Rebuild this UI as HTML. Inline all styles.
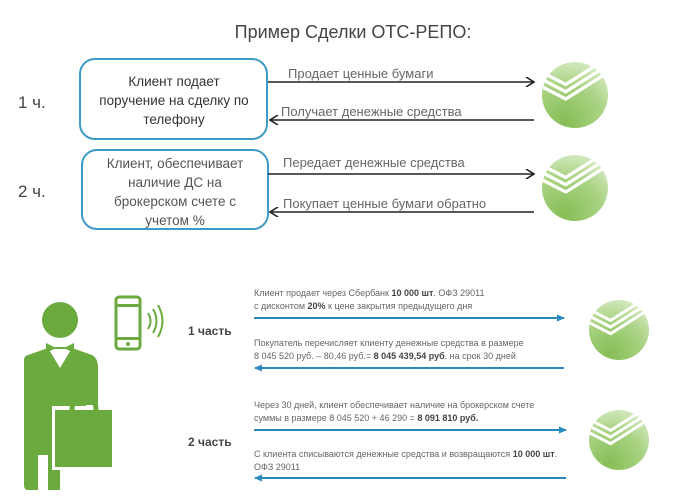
<!DOCTYPE html>
<html><head><meta charset="utf-8"><style>
body{margin:0;background:#fff}
svg{display:block;font-family:"Liberation Sans","DejaVu Sans",sans-serif}
</style></head><body>
<svg width="696" height="504" viewBox="0 0 696 504" xmlns="http://www.w3.org/2000/svg">
<defs>
<radialGradient id="g" cx="0.35" cy="0.9" r="0.95">
<stop offset="0" stop-color="#86bd55"/><stop offset="0.6" stop-color="#a9d383"/><stop offset="1" stop-color="#d6ebc3"/>
</radialGradient>
<clipPath id="cc"><circle cx="0" cy="0" r="1"/></clipPath>
<g id="logo">
<circle cx="0" cy="0" r="1" fill="url(#g)"/>
<g fill="none" stroke="#fff" stroke-width="0.1" clip-path="url(#cc)">
<polyline points="-1.1,-0.3 -0.28,0.12 1.1,-0.75"/>
<polyline points="-1.1,-0.52 -0.28,-0.1 1.1,-0.97"/>
<polyline points="-1.1,-0.74 -0.28,-0.32 1.1,-1.19"/>
</g>
</g>
<marker id="oa" markerWidth="10" markerHeight="10" refX="9" refY="5" orient="auto" markerUnits="userSpaceOnUse"><polyline points="1,0 9,5 1,10" fill="none" stroke="#222" stroke-width="1.6"/></marker>
<marker id="ba" markerWidth="8" markerHeight="8" refX="7" refY="4" orient="auto" markerUnits="userSpaceOnUse"><polygon points="0,0.5 8,4 0,7.5" fill="#2a8ac0"/></marker>
</defs>
<text x="353" y="38" text-anchor="middle" font-size="18" fill="#444">Пример Сделки ОТС-РЕПО:</text>
<rect x="80" y="59" width="187" height="80" rx="15" fill="#fff" stroke="#3d9bc6" stroke-width="2"/>
<text text-anchor="middle" font-size="13.5" fill="#333"><tspan x="174" y="86">Клиент подает</tspan><tspan x="174" y="105">поручение на сделку по</tspan><tspan x="174" y="124">телефону</tspan></text>
<rect x="82" y="150" width="186" height="79" rx="15" fill="#fff" stroke="#3d9bc6" stroke-width="2"/>
<text text-anchor="middle" font-size="13.5" fill="#555"><tspan x="175" y="168">Клиент, обеспечивает</tspan><tspan x="175" y="187">наличие ДС на</tspan><tspan x="175" y="206">брокерском счете с</tspan><tspan x="175" y="225">учетом %</tspan></text>
<text x="18" y="108" font-size="17" fill="#444">1 ч.</text>
<text x="18" y="197" font-size="17" fill="#444">2 ч.</text>
<g stroke="#222" stroke-width="1.6">
<line x1="268" y1="82" x2="534" y2="82" marker-end="url(#oa)"/>
<line x1="534" y1="120" x2="270" y2="120" marker-end="url(#oa)"/>
<line x1="268" y1="174" x2="534" y2="174" marker-end="url(#oa)"/>
<line x1="534" y1="212" x2="270" y2="212" marker-end="url(#oa)"/>
</g>
<g font-size="13" fill="#666">
<text x="288" y="78">Продает ценные бумаги</text>
<text x="281" y="116">Получает денежные средства</text>
<text x="283" y="167">Передает денежные средства</text>
<text x="283" y="208">Покупает ценные бумаги обратно</text>
</g>
<use href="#logo" transform="translate(575,95) scale(33)"/>
<use href="#logo" transform="translate(575,188) scale(33)"/>
<use href="#logo" transform="translate(619,330) scale(30)"/>
<use href="#logo" transform="translate(619,440) scale(30)"/>
<!-- person -->
<g fill="#6aaa3e">
<circle cx="60" cy="320" r="18"/>
<polygon points="46,343 54,347 66,347 74,343 74,353 66,349 54,349 46,353"/>
<path d="M28,355 L48,348 L60,368 L72,348 L92,355 Q98,358 98,368 L98,405 L86,405 L86,430 L52,430 L52,455 L60,455 L60,490 L48,490 L48,455 L38,455 L38,490 L28,490 Q24,490 24,485 L24,360 Q24,356 28,355 Z"/>
</g>
<rect x="52" y="406" width="63" height="64" fill="#fff"/>
<rect x="55" y="410" width="57" height="57" fill="#6aaa3e"/>
<path d="M72,410 Q72,396 84,396 Q96,396 96,410" fill="none" stroke="#6aaa3e" stroke-width="5"/>
<!-- phone -->
<rect x="116" y="297" width="24" height="52" rx="3" fill="none" stroke="#6aaa3e" stroke-width="3"/>
<rect x="116" y="304" width="24" height="3" fill="#6aaa3e"/>
<rect x="116" y="337" width="24" height="3" fill="#6aaa3e"/>
<circle cx="128" cy="344" r="2" fill="#6aaa3e"/>
<g fill="none" stroke="#6aaa3e" stroke-width="2">
<path d="M148,313 Q153,321 148,329"/><path d="M153,309 Q160,321 153,333"/><path d="M158,305 Q167,321 158,337"/>
</g>
<text x="188" y="335" font-size="12" font-weight="bold" fill="#444">1 часть</text>
<text x="188" y="446" font-size="12" font-weight="bold" fill="#444">2 часть</text>
<g stroke="#2a8ac0" stroke-width="2">
<line x1="254" y1="318" x2="564" y2="318" marker-end="url(#ba)"/>
<line x1="564" y1="368" x2="255" y2="368" marker-end="url(#ba)"/>
<line x1="254" y1="430" x2="566" y2="430" marker-end="url(#ba)"/>
<line x1="566" y1="478" x2="255" y2="478" marker-end="url(#ba)"/>
</g>
<g font-size="9" fill="#666">
<text x="254" y="296">Клиент продает через Сбербанк <tspan font-weight="bold" fill="#444">10 000 шт</tspan>. ОФЗ 29011</text>
<text x="254" y="309">с дисконтом <tspan font-weight="bold" fill="#444">20%</tspan> к цене закрытия предыдущего дня</text>
<text x="254" y="346">Покупатель перечисляет клиенту денежные средства в размере</text>
<text x="254" y="359">8 045 520 руб. – 80,46 руб.= <tspan font-weight="bold" fill="#444">8 045 439,54 руб</tspan>. на срок 30 дней</text>
<text x="254" y="408">Через 30 дней, клиент обеспечивает наличие на брокерском счете</text>
<text x="254" y="421">суммы в размере 8 045 520 + 46 290 = <tspan font-weight="bold" fill="#444">8 091 810 руб.</tspan></text>
<text x="254" y="457">С клиента списываются денежные средства и возвращаются <tspan font-weight="bold" fill="#444">10 000 шт</tspan>.</text>
<text x="254" y="470">ОФЗ 29011</text>
</g>
</svg>
</body></html>
